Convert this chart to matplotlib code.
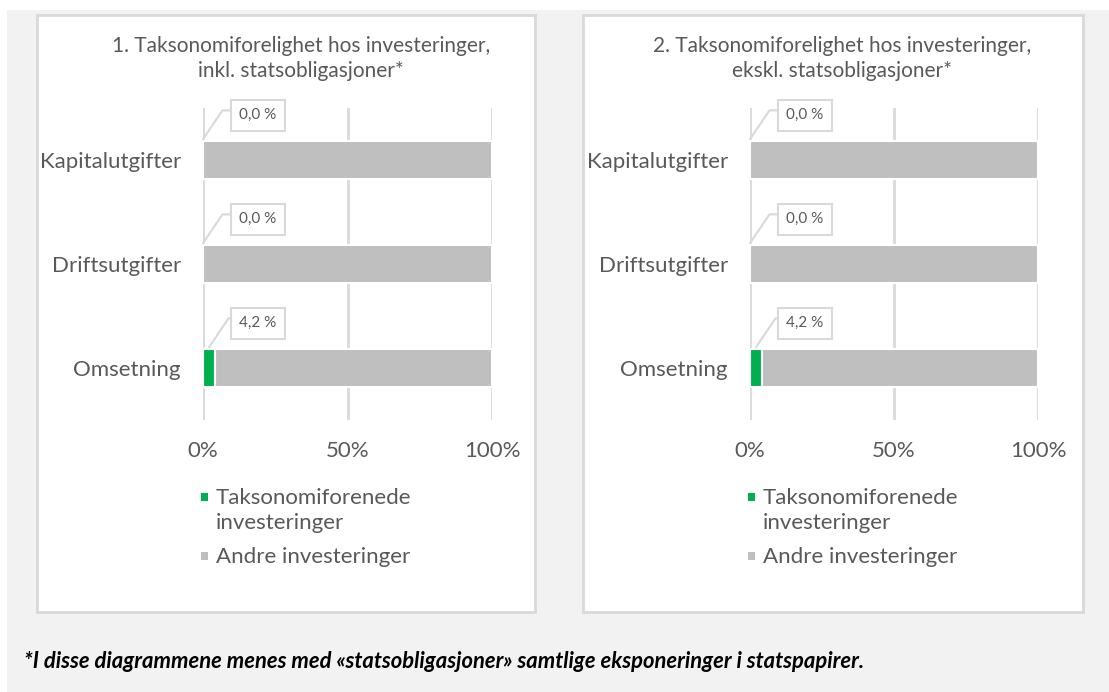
import matplotlib.pyplot as plt
from matplotlib.patches import Rectangle

plt.rcParams['font.family'] = ['Lato', 'DejaVu Sans']

# Data
kategorier = ['Omsetning', 'Driftsutgifter', 'Kapitalutgifter']
taksonomi_1 = [4.2, 0.0, 0.0]
taksonomi_2 = [4.2, 0.0, 0.0]
titler = ['1. Taksonomiforelighet hos investeringer,\ninkl. statsobligasjoner*',
          '2. Taksonomiforelighet hos investeringer,\nekskl. statsobligasjoner*']
serier = ['Taksonomiforenede\ninvesteringer', 'Andre investeringer']
x_ticks = [0, 50, 100]
x_labels = ['0%', '50%', '100%']
fotnote = '*I disse diagrammene menes med «statsobligasjoner» samtlige eksponeringer i statspapirer.'

GREEN = '#00b050'
GRAY = '#bfbfbf'
TXT = '#595959'
GRID = '#d9d9d9'

W, H = 1109, 692
fig = plt.figure(figsize=(W / 100, H / 100), dpi=100)
fig.patch.set_facecolor('white')


def px(x0, y0, x1, y1):
    # pixel box -> figure coords [left, bottom, width, height]
    return [x0 / W, 1 - y1 / H, (x1 - x0) / W, (y1 - y0) / H]


# bakgrunn og paneler
fig.patches.append(Rectangle((7 / W, 0), 1, 1 - 10 / H, transform=fig.transFigure,
                             facecolor='#f2f2f2', edgecolor='none', zorder=-3))
for (x0, x1) in [(37, 535), (583, 1083)]:
    fig.patches.append(Rectangle((x0 / W, 1 - 612 / H), (x1 - x0) / W, (612 - 15) / H,
                                 transform=fig.transFigure, facecolor='white',
                                 edgecolor=GRID, linewidth=2, zorder=-2))

paneler = [(203, 492, 301, titler[0], taksonomi_1),
           (750, 1038, 842, titler[1], taksonomi_2)]

for (ax0, ax1, tx, tittel, taks) in paneler:
    ax = fig.add_axes(px(ax0, 108, ax1, 420))
    ax.set_facecolor('none')
    y = list(range(len(kategorier)))
    andre = [100 - t for t in taks]
    ax.barh(y, taks, height=0.37, color=GREEN, edgecolor='white', linewidth=1.5, zorder=3)
    ax.barh(y, andre, left=taks, height=0.37, color=GRAY, edgecolor='white',
            linewidth=1.5, zorder=3)
    ax.set_xlim(0, 100)
    ax.set_ylim(-0.5, 2.5)
    ax.set_xticks(x_ticks)
    ax.set_xticklabels(x_labels)
    ax.set_yticks(y)
    ax.set_yticklabels(kategorier)
    ax.tick_params(length=0, labelsize=16, labelcolor=TXT)
    ax.tick_params(axis='x', pad=15)
    ax.tick_params(axis='y', pad=16)
    ax.grid(axis='x', color=GRID, linewidth=2, zorder=0)
    ax.set_axisbelow(True)
    for s in ax.spines.values():
        s.set_visible(False)

    for yi, t in zip(y, taks):
        ax.annotate(f'{t:.1f} %'.replace('.', ','), xy=(t / 2, yi + 0.2),
                    xytext=(19, yi + 0.43), ha='center', va='center',
                    fontsize=11, color=TXT,
                    bbox=dict(boxstyle='square,pad=0.55', fc='white', ec=GRID, lw=1.5),
                    arrowprops=dict(arrowstyle='-', color=GRID, lw=1.5, relpos=(0, 0.85),
                                    shrinkA=0, shrinkB=0,
                                    connectionstyle='angle,angleA=0,angleB=56,rad=0'),
                    zorder=5)

    fig.text(tx / W, 1 - 36 / H, tittel, ha='center', va='top', fontsize=15,
             color=TXT, linespacing=1.3)

    # forklaring
    for farge, etikett, ly in zip([GREEN, GRAY], serier, [497, 556]):
        fig.patches.append(Rectangle(((ax0 - 2) / W, 1 - (ly + 4) / H), 7 / W, 8 / H,
                                     transform=fig.transFigure, facecolor=farge,
                                     edgecolor='none'))
        fig.text((ax0 + 13) / W, 1 - (ly - 9) / H, etikett, ha='left', va='top',
                 fontsize=16, color=TXT, linespacing=1.3)

fig.text(24 / W, 1 - 661 / H, fotnote, ha='left', va='center', fontsize=15.8,
         fontweight='bold', fontstyle='italic', color='black')

fig.savefig('out.png', dpi=100)
